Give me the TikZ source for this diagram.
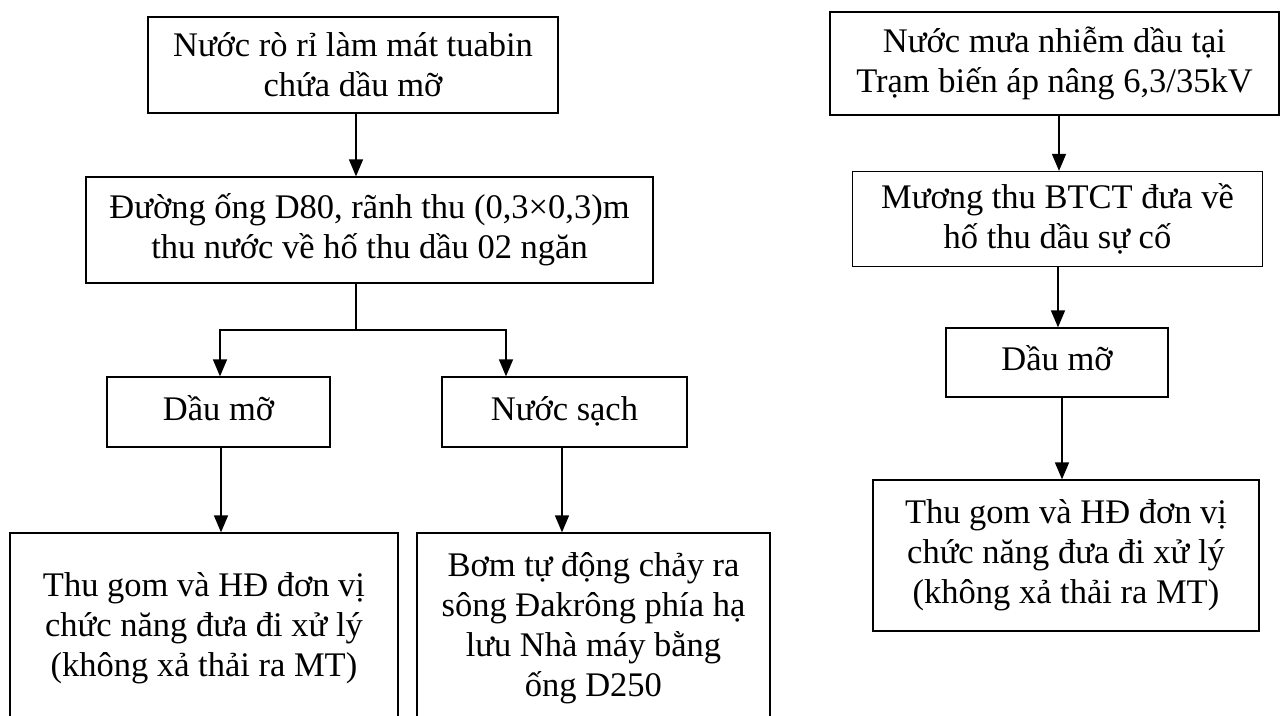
\documentclass[tikz,border=0pt]{standalone}
\usepackage{fontspec}
\setmainfont{Liberation Serif}
\usetikzlibrary{arrows.meta}
\begin{document}
\begin{tikzpicture}[x=1pt,y=-1pt,
  box/.style={draw, line width=1.3pt, inner sep=0pt, align=center, font=\fontsize{34.5}{40}\selectfont},
  onebox/.style={box, text height=24pt, text depth=8pt},
  arr/.style={line width=1.6pt, -{Triangle[width=14pt,length=17pt]}},
  ln/.style={line width=1.6pt}]
\useasboundingbox (0,0) rectangle (1280,715);
% left column
\node[box, minimum width=410pt, minimum height=96pt] (b1) at (353,65) {Nước rò rỉ làm mát tuabin\\chứa dầu mỡ};
\node[box, minimum width=567pt, minimum height=106pt] (b2) at (369.5,230) {Đường ống D80, rãnh thu (0,3×0,3)m\\thu nước về hố thu dầu 02 ngăn};
\node[onebox, minimum width=223pt, minimum height=70pt] (dau) at (218.5,412) {Dầu mỡ};
\node[onebox, minimum width=245pt, minimum height=70pt] (sach) at (564.5,412) {Nước sạch};
\node[box, minimum width=388pt, minimum height=190pt] (bl) at (204,628) {Thu gom và HĐ đơn vị\\chức năng đưa đi xử lý\\(không xả thải ra MT)};
\node[box, minimum width=353pt, minimum height=190pt] (br) at (593.5,628) {Bơm tự động chảy ra\\sông Đakrông phía hạ\\lưu Nhà máy bằng\\ống D250};
% right column
\node[box, minimum width=449pt, minimum height=103pt] (r1) at (1054.5,63.5) {Nước mưa nhiễm dầu tại\\Trạm biến áp nâng 6,3/35kV};
\node[box, minimum width=410pt, minimum height=95pt] (r2) at (1057.5,219) {Mương thu BTCT đưa về\\hố thu dầu sự cố};
\node[onebox, minimum width=222pt, minimum height=69pt] (r3) at (1057,362.5) {Dầu mỡ};
\node[box, minimum width=386pt, minimum height=151pt] (r4) at (1066,555.5) {Thu gom và HĐ đơn vị\\chức năng đưa đi xử lý\\(không xả thải ra MT)};
% coordinates
\coordinate (c1) at (356,0);
\coordinate (j) at (356,330);
\coordinate (ja) at (220,330);
\coordinate (jb) at (506,330);
\coordinate (c2) at (221,0);
\coordinate (c3) at (562,0);
\coordinate (c4) at (1059,0);
\coordinate (c5) at (1058,0);
\coordinate (c6) at (1062,0);
% connectors
\draw[arr] (b1.south -| c1) -- (b2.north -| c1);
\draw[ln] (b2.south -| j) -- (j);
\draw[arr] (j) -| (dau.north -| ja);
\draw[arr] (j) -| (sach.north -| jb);
\draw[arr] (dau.south -| c2) -- (bl.north -| c2);
\draw[arr] (sach.south -| c3) -- (br.north -| c3);
\draw[arr] (r1.south -| c4) -- (r2.north -| c4);
\draw[arr] (r2.south -| c5) -- (r3.north -| c5);
\draw[arr] (r3.south -| c6) -- (r4.north -| c6);
\end{tikzpicture}
\end{document}
